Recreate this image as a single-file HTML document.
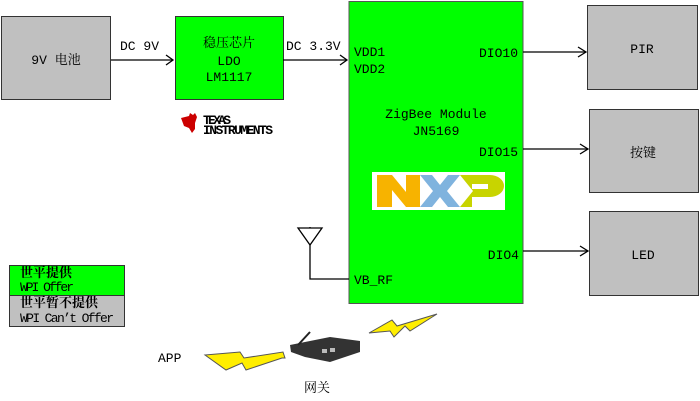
<!DOCTYPE html>
<html><head><meta charset="utf-8"><style>
html,body{margin:0;padding:0;background:#fff;}
svg{display:block;}
text{font-family:"Liberation Mono","Noto Serif CJK SC","Noto Sans CJK SC",monospace;font-size:13px;fill:#000;}
</style></head><body>
<svg width="700" height="401" viewBox="0 0 700 401" xmlns="http://www.w3.org/2000/svg">
<rect x="1.5" y="16.5" width="109" height="83" fill="#c0c0c0" stroke="#333"/>
<text x="56" y="64" text-anchor="middle" font-size="14">9V 电池</text>
<rect x="175.5" y="16.5" width="108" height="83" fill="#00ff00" stroke="#333"/>
<text x="229" y="47" text-anchor="middle" font-size="14">稳压芯片</text>
<text x="229" y="65" text-anchor="middle">LDO</text>
<text x="229" y="81" text-anchor="middle">LM1117</text>
<line x1="111" y1="60" x2="173" y2="60" stroke="#000" stroke-width="1.3"/>
<polyline points="166,55 173,60 166,65" fill="none" stroke="#000" stroke-width="1.3"/>
<text x="120" y="50">DC 9V</text>
<line x1="283" y1="60" x2="347" y2="60" stroke="#000" stroke-width="1.3"/>
<polyline points="340,55 347,60 340,65" fill="none" stroke="#000" stroke-width="1.3"/>
<text x="286" y="50">DC 3.3V</text>
<path d="M181 118 l8 -2 l1 -3 l3 2 l2 -2 l2 4 l-2 6 l0 6 l-3 4 l-3 -5 l-5 -2 z" fill="#cc0000"/>
<text x="203" y="124" font-family="Liberation Sans,sans-serif" font-size="9" font-weight="bold" fill="#222" textLength="28">TEXAS</text>
<text x="203" y="134" font-family="Liberation Sans,sans-serif" font-size="8.5" font-weight="bold" fill="#222" textLength="70">INSTRUMENTS</text>
<rect x="349" y="1.5" width="174" height="302" fill="#00ff00" stroke="#555"/>
<text x="354" y="56">VDD1</text>
<text x="354" y="73">VDD2</text>
<text x="436" y="118" text-anchor="middle">ZigBee Module</text>
<text x="436" y="135" text-anchor="middle">JN5169</text>
<text x="518" y="57" text-anchor="end">DIO10</text>
<text x="518" y="156" text-anchor="end">DIO15</text>
<text x="519" y="259" text-anchor="end">DIO4</text>
<text x="354" y="284">VB_RF</text>
<rect x="372" y="172" width="133" height="38" fill="#fff"/>
<path d="M377 175 h15 l14 17 v-17 h14 v32 h-14 l-14 -17 v17 h-15 z" fill="#f7b300"/>
<path d="M420 175 h12 l8 10 l8 -10 h12 l-13 16 l13 16 h-12 l-8 -10 l-8 10 h-12 l13 -16 z" fill="#7fb3de"/>
<path d="M460 175 h30 a14 11 0 0 1 0 22 h-18 v10 h-12 l13 -16 z" fill="#c8d400"/>
<rect x="472" y="184" width="16" height="5" fill="#fff"/>
<polyline points="310,227 310,279 349,279" fill="none" stroke="#000" stroke-width="1.3"/>
<polygon points="298,228 322,228 310,245" fill="#fff" stroke="#000" stroke-width="1.3"/>
<g stroke="#000" stroke-width="1.3" fill="none">
<line x1="523" y1="52" x2="586" y2="52"/><polyline points="578,47 586,52 578,57"/>
<line x1="523" y1="149" x2="588" y2="149"/><polyline points="580,144 588,149 580,154"/>
<line x1="523" y1="251" x2="588" y2="251"/><polyline points="580,246 588,251 580,256"/>
</g>
<rect x="587.5" y="5.5" width="110" height="84" fill="#c0c0c0" stroke="#333"/>
<text x="642" y="53" text-anchor="middle">PIR</text>
<rect x="589.5" y="109.5" width="109" height="83" fill="#c0c0c0" stroke="#333"/>
<text x="643" y="157" text-anchor="middle" font-size="14">按键</text>
<rect x="589.5" y="211.5" width="109" height="84" fill="#c0c0c0" stroke="#333"/>
<text x="643" y="259" text-anchor="middle">LED</text>
<rect x="9.5" y="265.5" width="115" height="30" fill="#00ff00" stroke="#333"/>
<text x="20" y="277" font-size="11" font-weight="bold">世平提供</text>
<text x="20" y="291" font-size="10" textLength="54">WPI Offer</text>
<rect x="9.5" y="295.5" width="115" height="31" fill="#c0c0c0" stroke="#333"/>
<text x="20" y="307" font-size="11" font-weight="bold">世平暂不提供</text>
<text x="20" y="322" font-size="10" textLength="94">WPI Can’t Offer</text>
<text x="158" y="362" font-size="14">APP</text>
<polygon points="205,355 240,352 244,358 283,352 285,358 282,358 246,370 242,363 226,370" fill="#ffee00" stroke="#555" stroke-width="1"/>
<polygon points="369,333 392,320 397,326 437,314 410,331 405,326 394,337 390,331" fill="#ffee00" stroke="#555" stroke-width="1"/>
<polygon points="290,345 330,337 360,341 360,352 330,362 305,357 291,352" fill="#333"/>
<line x1="298" y1="345" x2="310" y2="332" stroke="#222" stroke-width="2"/>
<rect x="322" y="349" width="5" height="4" fill="#bbb"/><rect x="330" y="348" width="5" height="4" fill="#bbb"/>
<text x="304" y="392" font-size="17" fill="#333" font-family="Liberation Sans,Noto Sans CJK SC,sans-serif">网关</text>
</svg>
</body></html>
